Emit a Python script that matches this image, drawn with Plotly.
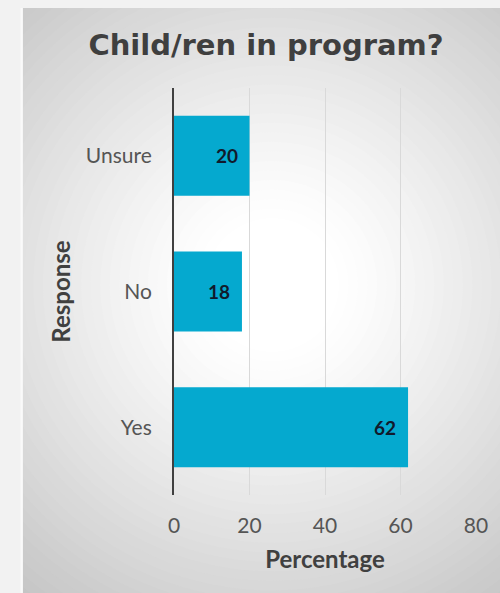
import plotly.graph_objects as go

# Survey results
responses = ["Yes", "No", "Unsure"]
percentages = [62, 18, 20]
x_ticks = [0, 20, 40, 60, 80]

W, H = 500, 593
L, R, T, B = 174, 24, 88, 98          # plot-area margins in px
PW, PH = W - L - R, H - T - B


def px_x(p):
    return (p - L) / PW


def px_y(p):
    return (H - B - p) / PH


fig = go.Figure(
    go.Bar(
        y=responses,
        x=percentages,
        orientation="h",
        marker=dict(color="#05a9cf", line=dict(width=0)),
        width=0.59,
        hoverinfo="skip",
    )
)

# Value labels sitting just inside the end of each bar
annotations = [
    dict(x=v, y=cat, xref="x", yref="y", text=str(v), showarrow=False,
         xanchor="right", yanchor="middle", xshift=-10,
         font=dict(family="Lato, Open Sans, sans-serif", size=19,
                   color="#111a2c", weight="bold"))
    for cat, v in zip(responses, percentages)
]

# Radial grey-to-white panel gradient built from concentric circles
shapes = []
cx, cy = 272, 285
steps = 44
r_max = 420
for i in range(steps):
    r = r_max * (1 - i / steps)
    t = max(0.0, (r - 70) / 330)
    g = int(round(255 - 58 * min(1.0, t) ** 1.15))
    col = f"rgb({g},{g},{g})"
    shapes.append(dict(
        type="circle", xref="paper", yref="paper", layer="below",
        x0=px_x(cx - r), x1=px_x(cx + r), y0=px_y(cy + r), y1=px_y(cy - r),
        fillcolor=col, line=dict(width=0),
    ))
# Outer page strips around the panel
shapes.append(dict(type="rect", xref="paper", yref="paper", layer="below",
                   x0=px_x(-5), x1=px_x(23), y0=px_y(H + 5), y1=px_y(-5),
                   fillcolor="#f2f2f2", line=dict(width=0)))
shapes.append(dict(type="rect", xref="paper", yref="paper", layer="below",
                   x0=px_x(-5), x1=px_x(W + 5), y0=px_y(8), y1=px_y(-5),
                   fillcolor="#f2f2f2", line=dict(width=0)))
shapes.append(dict(type="line", xref="paper", yref="paper", layer="below",
                   x0=px_x(21.5), x1=px_x(21.5), y0=px_y(8), y1=px_y(H + 5),
                   line=dict(color="#fafafa", width=2)))

tick_font = dict(family="Lato, Open Sans, sans-serif", size=21, color="#555555")
title_font = dict(family="Lato, Open Sans, sans-serif", size=24,
                  color="#404040", weight="bold")

fig.update_layout(
    width=W, height=H,
    margin=dict(l=L, r=R, t=T, b=B, pad=0),
    paper_bgcolor="#f2f2f2",
    plot_bgcolor="rgba(0,0,0,0)",
    shapes=shapes,
    annotations=annotations,
    showlegend=False,
    title=dict(
        text="Child/ren in program?",
        x=266 / W, xref="container", xanchor="center",
        y=1 - 45 / H, yref="container", yanchor="middle",
        font=dict(family="DejaVu Sans, sans-serif", size=29,
                  color="#3f3f3f", weight="bold"),
    ),
    xaxis=dict(
        range=[0, 80],
        tickvals=x_ticks,
        showgrid=True, gridcolor="#d9d9d9", gridwidth=1,
        zeroline=False, showline=False,
        ticks="", ticklabelstandoff=16,
        tickfont=tick_font,
        title=dict(text="Percentage", standoff=15, font=title_font),
        fixedrange=True,
    ),
    yaxis=dict(
        categoryorder="array", categoryarray=responses,
        showgrid=False, zeroline=False,
        showline=True, linecolor="#404040", linewidth=2,
        ticks="", ticklabelstandoff=16,
        tickfont=tick_font,
        title=dict(text="Response", standoff=8, font=title_font),
        fixedrange=True,
    ),
)

fig.write_html("out.html", config={"displayModeBar": False})
